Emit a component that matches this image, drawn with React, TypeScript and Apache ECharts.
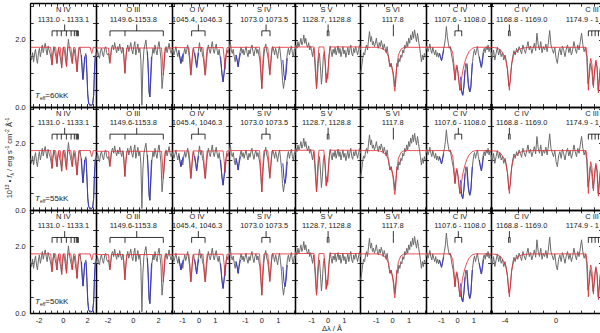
import React, { useEffect, useRef } from 'react';
import * as echarts from 'echarts';

// ---------- text / categories ----------
const ROW_TEFF = ['60kK', '55kK', '50kK'];
const Y_TICK_LABELS = [0, 2];
const X_TICK_LABELS = [[-2, 0, 2], [-2, 0, 2], [-1, 0, 1], [-1, 0, 1], [-1, 0, 1], [-1, 0, 1], [-1, 0, 1], [-4, 0]];
const X_MIN = [-2.7, -2.96, -1.65, -1.98, -2.03, -1.96, -1.96, -5.1];
const X_MAX = [2.7, 3.07, 1.85, 2.02, 2.0, 2.04, 2.06, 3.6];
const TICK_STEP = [0.5, 0.5, 0.5, 0.5, 0.5, 0.5, 0.5, 1];

// ion labels: [Δλ position, ion, wavelengths, alignment of wavelength text]
const LABELS: [number, string, string, string][][] = [
  [[0, 'N IV', '1131.0 - 1133.1', 'center']],
  [[0, 'O III', '1149.6-1153.8', 'center']],
  [[-0.12, 'O IV', '1045.4, 1046.3', 'center']],
  [[0.14, 'S IV', '1073.0 1073.5', 'center']],
  [[-0.1, 'S V', '1128.7, 1128.8', 'center']],
  [[0, 'S VI', '1117.8', 'center']],
  [[0.14, 'C IV', '1107.6 - 1108.0', 'center']],
  [[-2.7, 'C IV', '1168.8 - 1169.0', 'center'], [2.82, 'C III', '1174.9 - 1', 'right']],
];

// line identification markers: stem position and line positions (Δλ / Å)
const MARKERS: { stem: number; lines: number[] }[][] = [
  [{ stem: 0.11, lines: [-0.93, -0.52, -0.17, 0.25, 0.64, 0.91, 1.07, 1.16, 1.24] }],
  [{ stem: 0.27, lines: [-1.85, -0.66, 2.38] }],
  [{ stem: -0.04, lines: [-0.45, 0.37] }],
  [{ stem: 0.26, lines: [0, 0.5] }],
  [{ stem: 0, lines: [-0.05, 0.05] }],
  [{ stem: 0.04, lines: [0.04] }],
  [{ stem: 0.04, lines: [-0.17, 0.25] }],
  [{ stem: -3.66, lines: [-3.72, -3.6] }, { stem: 3.75, lines: [2.53, 2.8, 3.06, 3.32, 3.58] }],
];

// ---------- observed spectra (sampled from OBS_START with OBS_STEP) ----------
const OBS_START = [-2.7, -3.0, -1.65, -1.98, -2.03, -1.96, -1.96, -5.1];
const OBS_STEP = [0.08, 0.08, 0.06, 0.06, 0.06, 0.06, 0.06, 0.1];

const OBS_NIV = [1.55, 1.40, 1.62, 1.35, 1.58, 1.72, 1.45, 1.30, 1.60, 1.75, 1.50, 1.66, 1.85, 1.62, 1.78, 1.90, 1.70, 1.55, 1.82, 1.70,
  1.60, 1.45, 1.25, 1.55, 1.80, 1.65, 1.50, 1.30, 1.60, 1.75, 1.55, 1.40, 1.18, 1.50, 1.78, 1.65, 1.40, 1.22, 1.70, 2.02,
  1.75, 1.60, 1.45, 1.30, 1.60, 1.72, 1.50, 1.30, 1.05, 1.45, 1.70, 1.78, 1.55, 1.20, 0.82, 1.10, 1.50, 1.60, 1.10, 0.40,
  0.12, 0.06, 0.08, 0.05, 0.10, 0.35, 1.10, 1.55];
const OBS_OIII = [1.62, 1.50, 1.70, 1.55, 1.45, 1.68, 1.75, 1.58, 1.50, 1.72, 1.80, 1.62, 1.55, 1.60, 1.32, 1.50, 1.78, 1.85, 1.70, 1.92,
  1.75, 1.62, 1.80, 1.68, 1.88, 1.72, 1.60, 1.78, 1.55, 1.02, 1.40, 1.70, 1.85, 1.65, 1.78, 1.92, 1.70, 1.58, 1.80, 1.95,
  1.55, 1.72, 1.88, 1.62, 1.75, 1.40, 0.05, 1.20, 1.70, 1.85, 2.00, 1.70, 1.35, 0.45, 0.30, 0.90, 1.50, 1.75, 1.60, 1.85,
  1.68, 1.55, 1.80, 1.95, 1.70, 1.40, 0.55, 0.90, 1.20, 1.65, 1.80, 1.62, 1.75, 1.90, 1.70, 1.60, 1.72];
const OBS_OIV = [1.60, 1.72, 1.55, 1.68, 1.80, 1.62, 1.50, 1.70, 1.45, 1.30, 1.50, 1.35, 1.60, 1.75, 1.58, 1.70, 1.85, 1.62, 1.40, 0.95,
  1.20, 1.60, 1.75, 1.55, 1.40, 1.18, 1.50, 1.70, 1.92, 1.65, 1.78, 1.55, 1.45, 1.15, 0.95, 1.30, 1.65, 1.85, 1.70, 1.60,
  1.78, 1.95, 1.72, 1.60, 1.75, 1.88, 1.68, 1.55, 1.72, 1.50, 1.25, 0.95, 0.75, 1.00, 1.20, 1.55, 1.70, 1.60, 1.75];
const OBS_SIV = [1.75, 1.95, 1.70, 1.60, 1.72, 1.50, 1.35, 1.55, 1.40, 1.20, 1.48, 1.65, 1.78, 1.60, 1.72, 1.55, 1.68, 1.80, 1.62, 1.50,
  1.70, 1.58, 1.75, 1.85, 1.65, 1.52, 1.70, 1.78, 1.60, 1.72, 1.55, 1.40, 1.00, 0.55, 1.05, 1.50, 1.75, 1.88, 1.65, 1.55,
  1.30, 0.98, 1.25, 1.60, 1.80, 1.70, 1.55, 1.75, 1.62, 1.45, 1.68, 1.80, 1.55, 1.25, 0.80, 0.55, 0.78, 0.95, 1.35, 1.62,
  1.75, 1.55, 1.70, 1.82, 1.60, 1.50, 1.72, 1.65];
const OBS_SV = [1.70, 1.85, 1.75, 1.95, 1.80, 1.90, 2.05, 1.85, 1.95, 2.15, 1.90, 2.05, 1.85, 1.78, 1.92, 1.70, 1.82, 1.65, 1.50, 1.75,
  1.40, 1.00, 0.55, 0.90, 1.40, 1.60, 1.20, 0.68, 1.00, 1.50, 1.65, 1.30, 0.75, 0.85, 1.20, 1.60, 1.82, 1.65, 1.50, 1.72,
  1.60, 1.78, 1.55, 1.68, 1.82, 1.60, 1.75, 1.50, 1.65, 1.80, 1.58, 1.70, 1.48, 1.62, 1.78, 1.55, 1.70, 1.85, 1.60, 1.52,
  1.75, 1.62, 1.80, 1.68, 1.55, 1.72, 1.85, 1.70];
const OBS_SVI = [1.00, 1.20, 1.45, 1.62, 1.55, 1.75, 1.85, 1.70, 2.00, 2.25, 1.95, 2.10, 1.85, 1.95, 1.80, 1.90, 2.05, 1.85, 1.75, 1.92,
  1.80, 1.98, 1.85, 1.70, 1.88, 1.75, 1.62, 1.80, 1.55, 1.35, 1.20, 1.30, 1.15, 1.05, 0.85, 0.60, 0.95, 1.30, 1.20, 1.45,
  1.35, 1.55, 1.48, 1.70, 1.62, 1.85, 1.75, 1.95, 1.80, 2.05, 1.90, 2.15, 2.00, 2.25, 2.05, 2.30, 2.10, 1.95, 2.20, 2.00,
  1.80, 1.60, 1.35, 1.55, 1.40, 1.60, 1.50];
const OBS_CIV = [1.70, 1.82, 1.65, 1.75, 1.88, 1.70, 1.60, 1.78, 1.65, 1.55, 1.70, 1.50, 1.62, 1.48, 1.60, 1.50, 1.38, 1.55, 1.70, 1.85,
  2.05, 2.40, 2.10, 1.90, 1.75, 1.80, 1.62, 1.45, 1.30, 1.05, 0.80, 1.10, 1.20, 1.00, 0.75, 0.50, 0.55, 0.40, 0.35, 0.60,
  1.00, 1.30, 1.20, 0.85, 0.55, 0.45, 0.55, 0.95, 1.35, 1.60, 1.72, 1.55, 1.68, 1.80, 1.60, 1.45, 1.30, 1.18, 1.40, 1.65,
  1.75, 1.62, 1.80, 1.70, 1.85, 1.65, 1.78, 1.70];
const OBS_CIV_CIII = [1.65, 1.45, 1.70, 1.40, 1.60, 1.78, 1.55, 1.72, 1.50, 1.62, 1.40, 1.55, 1.35, 1.10, 0.62, 0.75, 1.20, 1.50, 1.68, 1.55,
  1.75, 1.62, 1.80, 1.70, 1.58, 1.85, 1.72, 1.60, 1.78, 1.95, 1.70, 1.82, 1.60, 1.75, 1.90, 1.68, 2.20, 1.85, 1.70, 1.95,
  1.62, 1.80, 1.70, 1.88, 1.65, 1.92, 2.28, 1.85, 1.72, 1.60, 1.78, 1.45, 1.30, 1.62, 1.75, 1.55, 1.82, 1.68, 1.50, 1.72,
  1.85, 1.62, 1.78, 1.55, 1.70, 1.95, 1.75, 1.60, 1.85, 1.70, 1.95, 2.20, 1.85, 1.65, 1.78, 1.50, 0.70, 0.90, 1.30, 1.10,
  0.65, 0.95, 1.35, 1.20, 0.50, 0.85, 1.30, 1.10];
const OBS = [OBS_NIV, OBS_OIII, OBS_OIV, OBS_SIV, OBS_SV, OBS_SVI, OBS_CIV, OBS_CIV_CIII];

// ---------- photospheric model (red) ----------
const MODEL_NIV = [[-2.7, 1.78], [-1.05, 1.78], [-0.98, 1.55], [-0.93, 1.25], [-0.88, 1.55], [-0.8, 1.78],
  [-0.64, 1.78], [-0.57, 1.55], [-0.52, 1.3], [-0.47, 1.55], [-0.4, 1.78],
  [-0.26, 1.78], [-0.19, 1.5], [-0.14, 1.16], [-0.09, 1.5], [-0.02, 1.78],
  [0.14, 1.78], [0.21, 1.5], [0.26, 1.2], [0.31, 1.5], [0.38, 1.78],
  [0.62, 1.78], [0.69, 1.55], [0.74, 1.3], [0.79, 1.55], [0.86, 1.78],
  [0.98, 1.76], [1.06, 1.45], [1.13, 1.05], [1.2, 1.45], [1.28, 1.78],
  [2.22, 1.78], [2.3, 1.66], [2.35, 1.6], [2.4, 1.66], [2.48, 1.78], [2.7, 1.78]];
const MODEL_OIII = [[-3, 1.76], [-1.97, 1.76], [-1.9, 1.5], [-1.85, 1.3], [-1.8, 1.5], [-1.73, 1.76],
  [-0.8, 1.76], [-0.72, 1.4], [-0.66, 1.0], [-0.6, 1.4], [-0.52, 1.76],
  [2.24, 1.76], [2.32, 1.35], [2.38, 0.95], [2.44, 1.35], [2.52, 1.76], [3.07, 1.76]];
const MODEL_OIV = [[-1.65, 1.77], [-0.62, 1.77], [-0.55, 1.4], [-0.49, 0.95], [-0.43, 1.4], [-0.36, 1.77],
  [0.24, 1.77], [0.31, 1.4], [0.37, 0.95], [0.43, 1.4], [0.5, 1.77],
  [1.47, 1.77], [1.54, 1.45], [1.59, 1.12], [1.64, 1.45], [1.71, 1.77], [1.85, 1.77]];
const MODEL_SIV = [[-1.98, 1.78], [-0.14, 1.78], [-0.07, 1.3], [0, 0.55], [0.06, 1.3], [0.13, 1.78],
  [0.36, 1.78], [0.43, 1.4], [0.49, 0.95], [0.55, 1.4], [0.62, 1.78], [2.02, 1.78]];
const MODEL_SV = [[-2.03, 1.79], [-0.86, 1.79], [-0.78, 1.3], [-0.71, 0.55], [-0.64, 1.3], [-0.56, 1.79],
  [-0.26, 1.79], [-0.19, 1.4], [-0.12, 0.72], [-0.07, 1.0], [-0.02, 0.85], [0.04, 1.4], [0.12, 1.79], [2.0, 1.79]];
const MODEL_SVI = [[-1.96, 1.78], [-0.9, 1.78], [-0.6, 1.74], [-0.4, 1.65], [-0.25, 1.5], [-0.17, 1.2], [-0.1, 1.3],
  [-0.03, 1.15], [0.03, 0.95], [0.08, 0.65], [0.13, 0.47], [0.18, 0.7], [0.25, 1.2], [0.35, 1.55], [0.5, 1.72], [0.7, 1.78], [2.04, 1.78]];
const MODEL_CIV = [[-1.96, 1.78], [-0.45, 1.78], [-0.3, 1.6], [-0.22, 1.2], [-0.17, 0.8], [-0.11, 1.15], [-0.05, 1.25],
  [0.03, 1.0], [0.09, 0.7], [0.14, 0.5], [0.2, 0.72], [0.3, 1.05], [0.42, 1.3], [0.55, 1.5], [0.7, 1.65], [0.9, 1.75], [1.1, 1.78], [2.06, 1.78]];
const MODEL_CIV_CIII = [[-5.1, 1.78], [-4.6, 1.76], [-4.3, 1.68], [-4.1, 1.55], [-3.95, 1.42], [-3.82, 1.15], [-3.74, 0.8],
  [-3.66, 0.5], [-3.58, 0.85], [-3.48, 1.3], [-3.3, 1.58], [-3.0, 1.7], [-2.6, 1.76], [-2.0, 1.78], [2.35, 1.78],
  [2.45, 1.45], [2.53, 0.5], [2.62, 1.2], [2.72, 1.45], [2.82, 1.25], [2.93, 0.58], [3.02, 1.1], [3.12, 1.4],
  [3.22, 1.2], [3.32, 0.42], [3.42, 1.0], [3.52, 1.3], [3.6, 1.2]];
const MODEL = [MODEL_NIV, MODEL_OIII, MODEL_OIV, MODEL_SIV, MODEL_SV, MODEL_SVI, MODEL_CIV, MODEL_CIV_CIII];

// ---------- interstellar lines (blue) ----------
const ISM_NIV = [
  [[1.5, 1.55], [1.57, 1.05], [1.62, 0.82], [1.68, 1.1], [1.76, 1.5]],
  [[1.88, 1.55], [1.96, 0.9], [2.02, 0.35], [2.08, 0.12], [2.18, 0.05], [2.34, 0.05], [2.44, 0.1], [2.51, 0.35], [2.57, 1.05], [2.64, 1.55]]];
const ISM_OIII = [[[1.12, 1.65], [1.2, 1.0], [1.27, 0.4], [1.31, 0.3], [1.36, 0.7], [1.44, 1.5]]];
const ISM_OIV = [
  [[-1.22, 1.62], [-1.15, 1.45], [-1.1, 1.3], [-1.04, 1.45], [-0.97, 1.6]],
  [[-0.26, 1.62], [-0.2, 1.4], [-0.14, 1.18], [-0.08, 1.4], [-0.02, 1.62]],
  [[1.32, 1.5], [1.4, 1.0], [1.47, 0.75], [1.53, 1.0], [1.6, 1.45]]];
const ISM_SIV = [
  [[-1.58, 1.55], [-1.5, 1.38], [-1.44, 1.2], [-1.38, 1.4], [-1.3, 1.6]],
  [[1.28, 1.4], [1.35, 0.95], [1.42, 0.8], [1.48, 1.0], [1.55, 1.45]]];
const ISM_SV: number[][][] = [];
const ISM_SVI: number[][][] = [];
const ISM_CIV = [
  [[-1.14, 1.6], [-1.06, 1.48], [-1.0, 1.38], [-0.94, 1.5], [-0.86, 1.7]],
  [[0.18, 0.9], [0.24, 0.5], [0.31, 0.35], [0.38, 0.6], [0.46, 1.1]],
  [[0.58, 1.3], [0.66, 0.7], [0.75, 0.45], [0.82, 0.6], [0.9, 1.3]],
  [[1.34, 1.5], [1.41, 1.3], [1.47, 1.18], [1.53, 1.35], [1.6, 1.62]]];
const ISM_CIV_CIII: number[][][] = [];
const ISM = [ISM_NIV, ISM_OIII, ISM_OIV, ISM_SIV, ISM_SV, ISM_SVI, ISM_CIV, ISM_CIV_CIII];

// ---------- layout ----------
const COL_LEFT = [30.7, 96, 172, 229.3, 295, 360.7, 426, 491];
const COL_RIGHT = [96, 172, 229.3, 295, 360.7, 426, 491, 602];
const ROW_TOP = [3.7, 107, 210.3];
const ROW_H = 103.3;
const Y_MAX = 3.08;
const MK_TOP = 2.46, MK_BAR = 2.27, MK_BOT = 2.11;
const FONT = 'Liberation Sans, Arial, Helvetica, sans-serif';
const TXT = '#222';

function tickValues(min: number, max: number, step: number) {
  const out: number[] = [];
  for (let v = Math.ceil(min / step - 1e-9) * step; v <= max + 1e-9; v += step) out.push(Math.round(v * 1000) / 1000);
  return out;
}

function segmentsToData(segs: number[][][]) {
  const out: any[] = [];
  segs.forEach((s, i) => {
    if (i > 0) out.push([s[0][0], '-']);
    s.forEach((p) => out.push(p));
  });
  return out;
}

function markerData(c: number) {
  const segs: number[][][] = [];
  MARKERS[c].forEach((m) => {
    const lo = Math.min(...m.lines, m.stem);
    const hi = Math.max(...m.lines, m.stem);
    segs.push([[m.stem, MK_TOP], [m.stem, MK_BAR]]);
    if (hi > lo) segs.push([[lo, MK_BAR], [hi, MK_BAR]]);
    m.lines.forEach((l) => segs.push([[l, MK_BAR], [l, MK_BOT]]));
  });
  return segmentsToData(segs);
}

function buildOption() {
  const grid: any[] = [], xAxis: any[] = [], yAxis: any[] = [], series: any[] = [], graphic: any[] = [];
  const yTicks = tickValues(0, Y_MAX, 0.5);
  for (let r = 0; r < 3; r++) {
    for (let c = 0; c < 8; c++) {
      const g = r * 8 + c;
      const left = COL_LEFT[c], width = COL_RIGHT[c] - COL_LEFT[c], top = ROW_TOP[r];
      grid.push({ left, top, width, height: ROW_H, containLabel: false, outerBoundsMode: 'none' });
      const xt = tickValues(X_MIN[c], X_MAX[c], TICK_STEP[c]);
      const common = {
        type: 'value', gridIndex: g, splitLine: { show: false },
        axisLine: { show: true, onZero: false, lineStyle: { color: '#000', width: 1.3 } },
        axisPointer: { show: false },
      };
      xAxis.push({
        ...common, min: X_MIN[c], max: X_MAX[c], position: 'bottom',
        axisTick: { show: true, inside: true, length: 3, customValues: xt, lineStyle: { color: '#000', width: 0.8 } },
        axisLabel: { show: r === 2, customValues: X_TICK_LABELS[c], fontSize: 7.5, color: TXT, margin: 3, fontFamily: FONT },
      });
      xAxis.push({
        ...common, min: X_MIN[c], max: X_MAX[c], position: 'top',
        axisTick: { show: true, inside: true, length: 3, customValues: xt, lineStyle: { color: '#000', width: 0.8 } },
        axisLabel: { show: false },
      });
      yAxis.push({
        ...common, min: 0, max: Y_MAX, position: 'left',
        axisTick: { show: true, inside: true, length: 3, customValues: yTicks, lineStyle: { color: '#000', width: 0.8 } },
        axisLabel: { show: c === 0, customValues: Y_TICK_LABELS, fontSize: 7.5, color: TXT, margin: 5, fontFamily: FONT, formatter: (v: number) => v.toFixed(1) },
      });
      yAxis.push({
        ...common, min: 0, max: Y_MAX, position: 'right',
        axisTick: { show: true, inside: true, length: 3, customValues: yTicks, lineStyle: { color: '#000', width: 0.8 } },
        axisLabel: { show: false },
      });
      const base = { type: 'line', xAxisIndex: 2 * g, yAxisIndex: 2 * g, symbol: 'none', silent: true, clip: true, connectNulls: false };
      series.push({ ...base, data: OBS[c].map((v, i) => [OBS_START[c] + i * OBS_STEP[c], v]), lineStyle: { color: '#6c6c6c', width: 1 } });
      if (ISM[c].length) series.push({ ...base, data: segmentsToData(ISM[c]), lineStyle: { color: '#3838c8', width: 1 } });
      series.push({ ...base, data: MODEL[c], lineStyle: { color: '#e6303a', width: 1, opacity: 0.85 } });
      series.push({ ...base, data: markerData(c), lineStyle: { color: '#000', width: 0.8 } });

      // panel labels
      LABELS[c].forEach(([lx, ion, wl, wlAlign]) => {
        const px = left + ((lx - X_MIN[c]) / (X_MAX[c] - X_MIN[c])) * width;
        const items: [string, number, number, string][] = [
          [ion, px, top + 6, 'center'],
          [wl, wlAlign === 'right' ? 599 : px, top + 15.5, wlAlign],
        ];
        items.forEach(([t, tx, ty, al]) => {
          graphic.push({
            type: 'text', x: tx, y: ty, silent: true,
            style: { text: t, fontSize: 7.5, fontFamily: FONT, fill: TXT, align: al, verticalAlign: 'middle', textAlign: al, textVerticalAlign: 'middle' },
          });
        });
      });
    }
    graphic.push({
      type: 'text', x: 35, y: ROW_TOP[r] + ROW_H - 12, silent: true,
      style: {
        text: '{it|T}{sub|eff}=' + ROW_TEFF[r], fontSize: 8, fontFamily: FONT, fill: TXT,
        align: 'left', verticalAlign: 'middle', textAlign: 'left', textVerticalAlign: 'middle',
        rich: {
          it: { fontStyle: 'italic', fontSize: 8, fontFamily: FONT, fill: TXT, lineHeight: 10 },
          sub: { fontSize: 5, fontFamily: FONT, fill: TXT, verticalAlign: 'bottom', lineHeight: 10 },
        },
      },
    });
  }
  graphic.push({
    type: 'text', x: 9, y: 158, rotation: Math.PI / 2, silent: true,
    style: {
      text: '10{sup|13} • {it|f}{sub|λ} / erg s{sup|-1} cm{sup|-2} Å{sup|-1}', fontSize: 7.5, fontFamily: FONT, fill: TXT,
      align: 'center', verticalAlign: 'middle', textAlign: 'center', textVerticalAlign: 'middle',
      rich: {
        sup: { fontSize: 5, fontFamily: FONT, fill: TXT, verticalAlign: 'top', lineHeight: 10 },
        sub: { fontSize: 5, fontFamily: FONT, fill: TXT, verticalAlign: 'bottom', lineHeight: 10 },
        it: { fontStyle: 'italic', fontSize: 7.5, fontFamily: FONT, fill: TXT, lineHeight: 10 },
      },
    },
  });
  graphic.push({
    type: 'text', x: 332, y: 328.5, silent: true,
    style: { text: 'Δλ / Å', fontSize: 7.5, fontFamily: FONT, fill: TXT, align: 'center', verticalAlign: 'middle', textAlign: 'center', textVerticalAlign: 'middle' },
  });
  return { animation: false, backgroundColor: '#fff', grid, xAxis, yAxis, series, graphic };
}

export default function App() {
  const ref = useRef<HTMLDivElement>(null);
  useEffect(() => {
    const chart = echarts.init(ref.current!, null, { renderer: 'svg' });
    chart.setOption(buildOption() as any);
    return () => chart.dispose();
  }, []);
  return <div ref={ref} style={{ position: 'fixed', left: 0, top: 0, width: 600, height: 333, background: '#fff' }} />;
}
